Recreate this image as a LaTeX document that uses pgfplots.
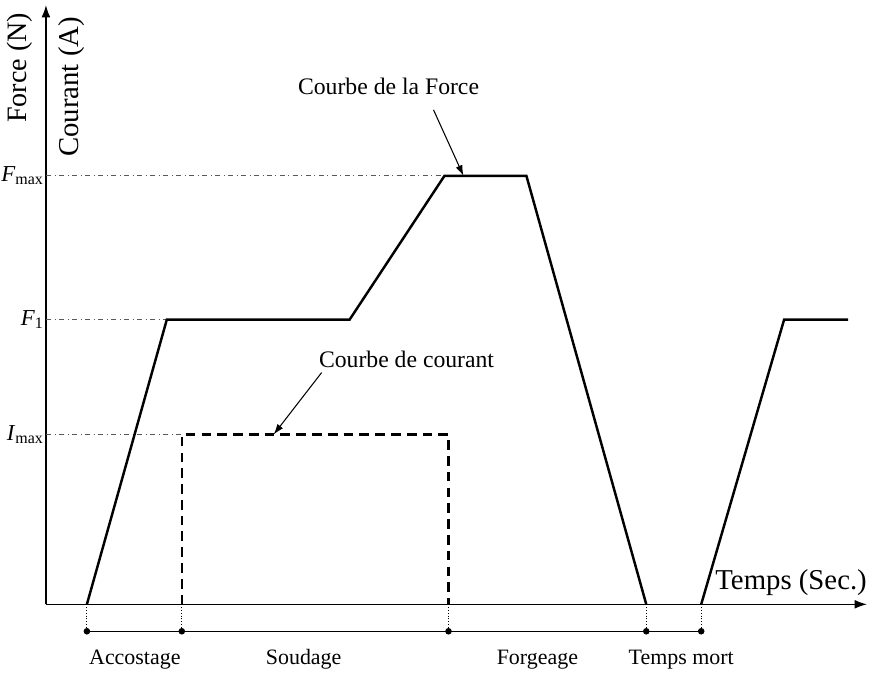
\documentclass[border=0pt]{standalone}
\usepackage{fontspec}
\setmainfont{Liberation Serif}
\usepackage{pgfplots}
\pgfplotsset{compat=1.18}
\usetikzlibrary{arrows.meta}

\begin{document}
\begin{tikzpicture}
\begin{axis}[
  x=0.02cm, y=0.02cm,
  xmin=0, xmax=822, ymin=0, ymax=600,
  axis lines=left,
  axis line style={line width=0.8pt, -{Latex[length=7pt,width=5pt]}},
  xtick=\empty,
  ytick={170,285,429},
  yticklabels={\textit{I}\textsubscript{max},\textit{F}\textsubscript{1},\textit{F}\textsubscript{max}},
  yticklabel style={font=\fontsize{13}{15}\selectfont, inner xsep=1pt},
  major tick length=0pt,
  clip=false,
]
% lignes de repere
\addplot[thin, gray!70!black, dashdotted] coordinates {(0,429)(399,429)};
\addplot[thin, gray!70!black, dashdotted] coordinates {(0,285)(121,285)};
\addplot[thin, gray!70!black, dashdotted] coordinates {(0,170)(136,170)};
% courbe de la force
\addplot[black, line width=1.4pt] coordinates {(41,0)(121,285)(304,285)(399,429)(481,429)(601,0)};
\addplot[black, line width=1.4pt] coordinates {(656,0)(739,285)(803,285)};
% courbe de courant
\addplot[black, line width=1.4pt, dash pattern=on 5.5pt off 3.5pt] coordinates {(136,0)(136,170)(403,170)(403,0)};
% phases
\addplot[black, densely dotted, line width=0.6pt, ycomb] coordinates {(41,-27)(136,-27)(403,-27)(601,-27)(656,-27)};
\addplot[black, line width=0.7pt, mark=*, mark size=1.5pt] coordinates {(41,-27)(136,-27)(403,-27)(601,-27)(656,-27)};

\node[font=\fontsize{12.5}{14}\selectfont, anchor=base] at (axis cs:89,-60) {Accostage};
\node[font=\fontsize{12.5}{14}\selectfont, anchor=base] at (axis cs:258,-60) {Soudage};
\node[font=\fontsize{12.5}{14}\selectfont, anchor=base] at (axis cs:492,-60) {Forgeage};
\node[font=\fontsize{12.5}{14}\selectfont, anchor=base] at (axis cs:636,-60) {Temps mort};
\node[font=\fontsize{16.4}{18}\selectfont] at (axis cs:746,22) {Temps (Sec.)};
\node[font=\fontsize{13.5}{16}\selectfont] at (axis cs:343,518) {Courbe de la Force};
\node[font=\fontsize{13.5}{16}\selectfont] at (axis cs:361,245) {Courbe de courant};
\draw[-{Latex[length=6pt,width=4pt]}, line width=0.6pt] (axis cs:388,495) -- (axis cs:418,429);
\draw[-{Latex[length=6pt,width=4pt]}, line width=0.6pt] (axis cs:276,232) -- (axis cs:228,170);
\node[font=\fontsize{16}{18}\selectfont, rotate=90] at (axis cs:-26,537) {Force (N)};
\node[font=\fontsize{16.4}{18}\selectfont, rotate=90] at (axis cs:26,518) {Courant (A)};

\coordinate (bl) at (axis cs:-46,-71);
\coordinate (tr) at (axis cs:829,605);
\end{axis}
\pgfresetboundingbox
\path (bl) rectangle (tr);
\end{tikzpicture}
\end{document}
